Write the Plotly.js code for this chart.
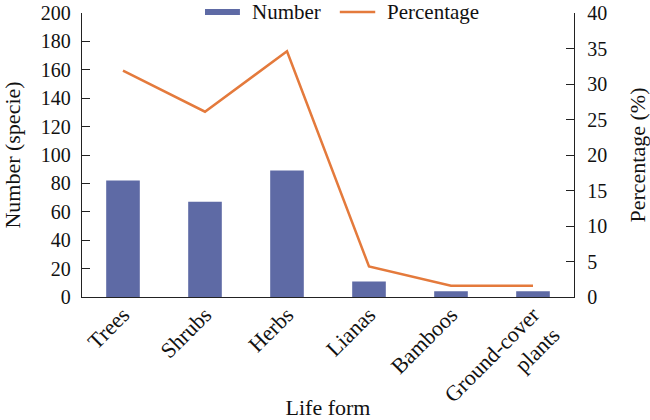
<!DOCTYPE html>
<html>
<head>
<meta charset="utf-8">
<script src="https://cdn.plot.ly/plotly-3.0.1.min.js"></script>
<style>html,body{margin:0;padding:0;background:#fff;}#chart{width:650px;height:420px;}</style>
</head>
<body>
<div id="chart"></div>
<script>
var categories = ["Trees", "Shrubs", "Herbs", "Lianas", "Bamboos", "Ground-cover<br>plants"];
var numberValues = [82, 67, 89, 11, 4, 4];
var percentValues = [31.9, 26.1, 34.6, 4.3, 1.6, 1.6];
var leftTicks = [0, 20, 40, 60, 80, 100, 120, 140, 160, 180, 200];
var rightTicks = [0, 5, 10, 15, 20, 25, 30, 35, 40];
var seriesNames = ["Number", "Percentage"];

var blue = "#5e6aa5";
var orange = "#e47a3c";
var fontFam = "'Liberation Serif', serif";

var traces = [
  {
    type: "bar", x: categories, y: numberValues, name: seriesNames[0],
    marker: {color: blue}, width: 0.41, yaxis: "y"
  },
  {
    type: "scatter", mode: "lines", x: categories, y: percentValues, name: seriesNames[1],
    line: {color: orange, width: 2.5}, yaxis: "y2"
  }
];

// legend drawn as keys + labels at the top of the plot
var legY = 1.0035;
var shapes = [
  {type: "line", xref: "paper", yref: "paper", x0: 0.25, x1: 0.321, y0: legY, y1: legY,
   line: {color: blue, width: 6}},
  {type: "line", xref: "paper", yref: "paper", x0: 0.524, x1: 0.596, y0: legY, y1: legY,
   line: {color: orange, width: 2.5}}
];
var annotations = [
  {xref: "paper", yref: "paper", x: 0.341, y: legY, xanchor: "left", yanchor: "middle",
   text: seriesNames[0], showarrow: false, font: {family: fontFam, size: 21, color: "#111"}},
  {xref: "paper", yref: "paper", x: 0.616, y: legY, xanchor: "left", yanchor: "middle",
   text: seriesNames[1], showarrow: false, font: {family: fontFam, size: 21, color: "#111"}}
];

var layout = {
  width: 650, height: 420,
  margin: {l: 82, r: 76, t: 13, b: 123},
  paper_bgcolor: "#fff", plot_bgcolor: "#fff",
  font: {family: fontFam, size: 21, color: "#111"},
  showlegend: false,
  shapes: shapes,
  annotations: annotations,
  xaxis: {
    type: "category", tickangle: -45, showline: true, linecolor: "#222", linewidth: 1.2,
    ticks: "", showgrid: false, zeroline: false, ticklabelstandoff: -5,
    tickfont: {family: fontFam, size: 22, color: "#111"},
    title: {text: "Life form", font: {family: fontFam, size: 22, color: "#111"}, standoff: 0},
    automargin: false
  },
  yaxis: {
    range: [0, 200], tickvals: leftTicks, ticks: "inside", ticklen: 8, tickcolor: "#222",
    showline: true, linecolor: "#222", linewidth: 1.2, showgrid: false, zeroline: false,
    ticklabelstandoff: 6, ticklabeloverflow: "allow",
    tickfont: {family: fontFam, size: 20, color: "#111"},
    title: {text: "Number (specie)", font: {family: fontFam, size: 22, color: "#111"}, standoff: 20},
    automargin: false
  },
  yaxis2: {
    range: [0, 40], tickvals: rightTicks, overlaying: "y", side: "right",
    ticks: "inside", ticklen: 8, tickcolor: "#222",
    showline: true, linecolor: "#222", linewidth: 1.2, showgrid: false, zeroline: false,
    ticklabelstandoff: 8, ticklabeloverflow: "allow",
    tickfont: {family: fontFam, size: 20, color: "#111"},
    title: {text: "Percentage (%)", font: {family: fontFam, size: 22, color: "#111"}, standoff: 24},
    automargin: false
  }
};

Plotly.newPlot("chart", traces, layout, {displayModeBar: false, staticPlot: true});
</script>
</body>
</html>
